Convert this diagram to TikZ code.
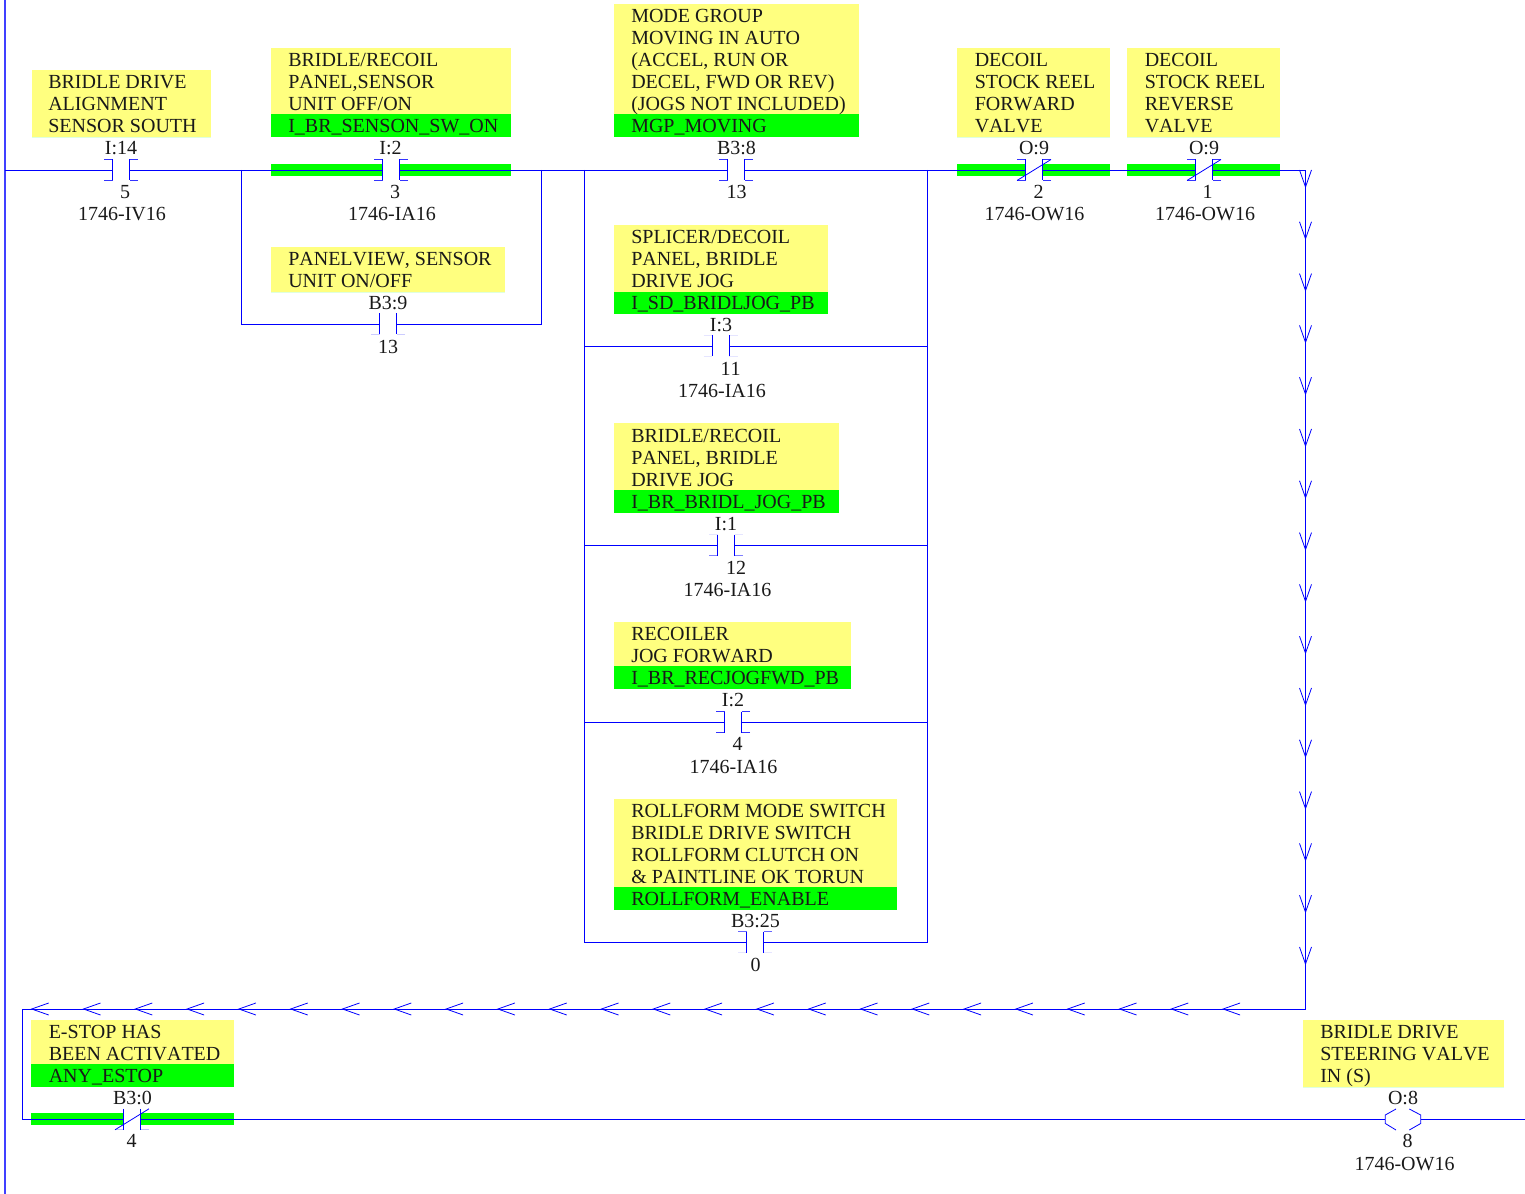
\documentclass[tikz,border=0pt]{standalone}
\usepackage{fontspec}
\setmainfont[Kerning=Off]{Liberation Serif}
\definecolor{noteY}{HTML}{FFFF7F}
\definecolor{tagG}{HTML}{00FF00}
\definecolor{wireB}{HTML}{0000FF}
\tikzset{
  wire/.style={draw=wireB,line width=0.65pt},
  rail/.style={draw=wireB!75!white,line width=1pt},
  part/.style={draw=wireB,line width=0.6pt},
  yel/.style={fill=noteY,draw=none},
  grn/.style={fill=tagG,draw=none},
  notetext/.style={anchor=south west,inner sep=0pt,yshift=0.375pt,align=left,font=\fontsize{15pt}{16.5pt}\selectfont,text=black!90},
  lbl/.style={anchor=base,inner sep=0pt,yshift=0.375pt,font=\fontsize{15pt}{16.5pt}\selectfont,text=black!90},
}
% normally-open contact: name, centre x, y, top tick opacity, bottom tick opacity
\newcommand{\opencontact}[5]{%
  \coordinate (#1-l) at (#2-8.5,#3);
  \coordinate (#1-r) at (#2+8.5,#3);
  \draw[part] (#2-8.5,#3-10.5) -- (#2-8.5,#3+10.5);
  \draw[part] (#2+8.5,#3-10.5) -- (#2+8.5,#3+10.5);
  \draw[part,draw opacity=#4] (#2-17,#3-10.5) -- (#2-8.5,#3-10.5);
  \draw[part,draw opacity=#4] (#2+17,#3-10.5) -- (#2+8.5,#3-10.5);
  \draw[part,draw opacity=#5] (#2-17,#3+10.5) -- (#2-8.5,#3+10.5);
  \draw[part,draw opacity=#5] (#2+17,#3+10.5) -- (#2+8.5,#3+10.5);
}
% normally-closed contact
\newcommand{\closedcontact}[5]{%
  \opencontact{#1}{#2}{#3}{#4}{#5}
  \draw[part] (#2-17,#3+10.5) -- (#2+17,#3-10.5);
}
% green band either side of a contact
\newcommand{\greenband}[4]{%
  \fill[grn] (#1,#4-6) rectangle (#2-8.5,#4+6);
  \fill[grn] (#2+8.5,#4-6) rectangle (#3,#4+6);
}
\newcommand{\notebox}[5]{% left,right,top,greentop,bottom
  \fill[yel] (#1,#3) rectangle (#2,#5);
  \fill[grn] (#1,#4) rectangle (#2,#5);
}
\begin{document}
\begin{tikzpicture}[x=0.75pt,y=-0.75pt]
\useasboundingbox (0,0) rectangle (1525,1194);
% --- comment boxes
\notebox{31.5}{211}{70}{137}{137}
\notebox{271}{511}{48}{114}{137}
\notebox{271}{505}{247}{292}{292}
\notebox{614}{859}{4}{114}{137}
\notebox{614}{828}{225}{292}{314}
\notebox{614}{839}{423}{490}{513}
\notebox{614}{851}{622}{666}{689}
\notebox{614}{897}{799}{887}{910}
\notebox{957}{1110}{48}{137}{137}
\notebox{1127}{1280}{48}{137}{137}
\notebox{31}{234}{1020}{1064}{1087}
\notebox{1303}{1504}{1020}{1087}{1087}
\greenband{271}{391}{511}{170}
\greenband{957}{1034}{1110}{170}
\greenband{1127}{1204}{1280}{170}
\greenband{31}{132}{234}{1119.3}
% --- contacts
\opencontact{a}{121}{170}{0.8}{0.8}
\opencontact{b}{391}{170}{0.8}{0.8}
\opencontact{c}{388}{324}{0}{0.2}
\opencontact{d}{736}{170}{0.8}{0.8}
\opencontact{e}{720.7}{346}{0.1}{0.1}
\opencontact{f}{726}{545}{0.1}{0.5}
\opencontact{g}{733}{722}{0.8}{0.8}
\opencontact{h}{755}{942}{0.6}{0.1}
\closedcontact{j}{1034}{170}{0.8}{0.8}
\closedcontact{k}{1204}{170}{0.8}{0.8}
\closedcontact{m}{132}{1119.3}{0}{0.25}
% --- coil
\coordinate (coil-l) at (1385.3,1119.3);
\coordinate (coil-r) at (1420.7,1119.3);
\draw[part] (1396,1109) -- (1385.3,1115) -- (coil-l) -- (1385.3,1123.5) -- (1396,1130);
\draw[part] (1409.3,1109) -- (1420.7,1115) -- (coil-r) -- (1420.7,1123.5) -- (1409.3,1130);
% --- junctions and ends
\coordinate (railT) at (5,0);
\coordinate (railB) at (5,1194);
\coordinate (railA) at (5,170);
\coordinate (j1) at (241,170);
\coordinate (j2) at (541,170);
\coordinate (j3) at (584,170);
\coordinate (j4) at (927,170);
\coordinate (turnA) at (1305.5,170);
\coordinate (turnB) at (1305.5,1009);
\coordinate (turnC) at (22.3,1009);
\coordinate (turnD) at (22.3,1119.3);
\coordinate (endR) at (1525,1119.3);
% --- wires
\draw[rail] (railT) -- (railB);
\draw[wire] (railA) -- (a-l);
\draw[wire] (a-r) -- (b-l);
\draw[wire] (b-r) -- (d-l);
\draw[wire] (d-r) -- (j-l);
\draw[wire] (j-r) -- (k-l);
\draw[wire] (k-r) -- (turnA) -- (turnB) -- (turnC) -- (turnD) -- (m-l);
\draw[wire] (m-r) -- (coil-l);
\draw[wire] (coil-r) -- (endR);
\draw[wire] (j1) |- (c-l);
\draw[wire] (j2) |- (c-r);
\draw[wire] (j3) |- (h-l);
\draw[wire] (j4) |- (h-r);
\draw[wire] (j3 |- e-l) -- (e-l);
\draw[wire] (e-r) -- (j4 |- e-r);
\draw[wire] (j3 |- f-l) -- (f-l);
\draw[wire] (f-r) -- (j4 |- f-r);
\draw[wire] (j3 |- g-l) -- (g-l);
\draw[wire] (g-r) -- (j4 |- g-r);
% --- flow arrows
\foreach \i in {0,...,15}{
  \pgfmathsetmacro{\ty}{187+51.8*\i}
  \draw[part] (1299.5,\ty-17) -- (1305.5,\ty) -- (1311.5,\ty-17);
}
\foreach \i in {0,...,23}{
  \pgfmathsetmacro{\tx}{31.7+51.8*\i}
  \draw[part] (\tx+17,1003) -- (\tx,1009) -- (\tx+17,1015);
}
% --- comment text
\node[notetext] (t1) at (48,139.6) {BRIDLE DRIVE\\ALIGNMENT\\SENSOR SOUTH\strut};
\node[notetext] (t2) at (288,139.6) {BRIDLE/RECOIL\\PANEL,SENSOR\\UNIT OFF/ON\\I\_BR\_SENSON\_SW\_ON\strut};
\node[notetext] (t3) at (288,294.6) {PANELVIEW, SENSOR\\UNIT ON/OFF\strut};
\node[notetext] (t4) at (631,139.6) {MODE GROUP\\MOVING IN AUTO\\(ACCEL, RUN OR\\DECEL, FWD OR REV)\\(JOGS NOT INCLUDED)\\MGP\_MOVING\strut};
\node[notetext] (t5) at (631,316.6) {SPLICER/DECOIL\\PANEL, BRIDLE\\DRIVE JOG\\I\_SD\_BRIDLJOG\_PB\strut};
\node[notetext] (t6) at (631,515.6) {BRIDLE/RECOIL\\PANEL, BRIDLE\\DRIVE JOG\\I\_BR\_BRIDL\_JOG\_PB\strut};
\node[notetext] (t7) at (631,691.6) {RECOILER\\JOG FORWARD\\I\_BR\_RECJOGFWD\_PB\strut};
\node[notetext] (t8) at (631,912.6) {ROLLFORM MODE SWITCH\\BRIDLE DRIVE SWITCH\\ROLLFORM CLUTCH ON\\\& PAINTLINE OK TORUN\\ROLLFORM\_ENABLE\strut};
\node[notetext] (t9) at (974.5,139.6) {DECOIL\\STOCK REEL\\FORWARD\\VALVE\strut};
\node[notetext] (t10) at (1144.5,139.6) {DECOIL\\STOCK REEL\\REVERSE\\VALVE\strut};
\node[notetext] (t11) at (48.5,1089.6) {E-STOP HAS\\BEEN ACTIVATED\\ANY\_ESTOP\strut};
\node[notetext] (t12) at (1320,1089.6) {BRIDLE DRIVE\\STEERING VALVE\\IN (S)\strut};
% --- addresses
\node[lbl] (a1) at (121,155) {I:14};
\node[lbl] (a2) at (125,199) {5};
\node[lbl] (a3) at (122,221) {1746-IV16};
\node[lbl] (b1) at (390.5,155) {I:2};
\node[lbl] (b2) at (395,199) {3};
\node[lbl] (b3) at (392,221) {1746-IA16};
\node[lbl] (c1) at (388,310) {B3:9};
\node[lbl] (c2) at (388,354) {13};
\node[lbl] (d1) at (736.5,155) {B3:8};
\node[lbl] (d2) at (736.5,199) {13};
\node[lbl] (e1) at (721,332) {I:3};
\node[lbl] (e2) at (730.5,376) {11};
\node[lbl] (e3) at (722,398) {1746-IA16};
\node[lbl] (f1) at (726,531) {I:1};
\node[lbl] (f2) at (736,575) {12};
\node[lbl] (f3) at (727.5,597) {1746-IA16};
\node[lbl] (g1) at (733,707) {I:2};
\node[lbl] (g2) at (737.5,751) {4};
\node[lbl] (g3) at (733.5,774) {1746-IA16};
\node[lbl] (h1) at (755.5,928) {B3:25};
\node[lbl] (h2) at (755.5,972) {0};
\node[lbl] (j1l) at (1034,155) {O:9};
\node[lbl] (j2l) at (1038.5,199) {2};
\node[lbl] (j3l) at (1034.5,221) {1746-OW16};
\node[lbl] (k1) at (1204,155) {O:9};
\node[lbl] (k2) at (1207.5,199) {1};
\node[lbl] (k3) at (1205,221) {1746-OW16};
\node[lbl] (m1) at (132.5,1105) {B3:0};
\node[lbl] (m2) at (131.5,1148) {4};
\node[lbl] (n1) at (1403,1105) {O:8};
\node[lbl] (n2) at (1407.5,1148) {8};
\node[lbl] (n3) at (1404.5,1171) {1746-OW16};
\end{tikzpicture}
\end{document}
